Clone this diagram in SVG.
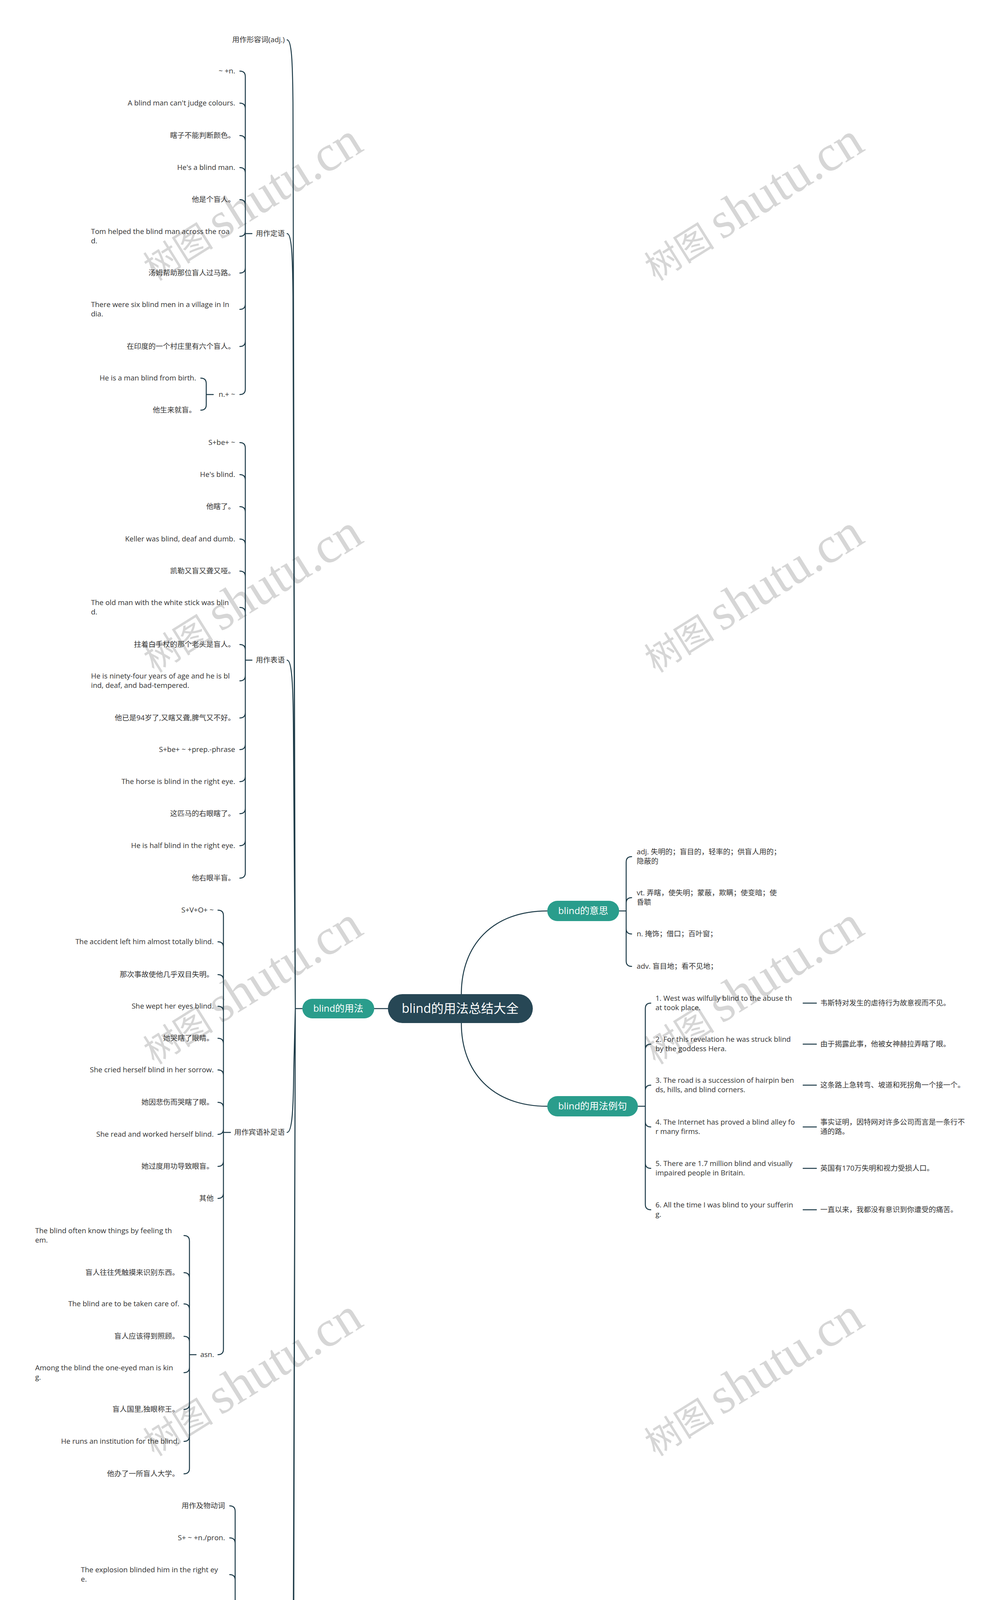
<svg xmlns="http://www.w3.org/2000/svg" width="2560" height="5459" viewBox="0 0 2560 5459">
<style>
.t{font-family:"Open Sans","Noto Sans CJK SC",sans-serif;font-size:18.5px;fill:#333}
.e{text-anchor:end}
.ln{fill:none;stroke:#1d3b48;stroke-width:2.5;stroke-linecap:round}
.wm{font-family:"Liberation Serif","Noto Sans CJK SC",serif;font-size:130px;fill:#d6d6d6;text-anchor:middle}
.wm .c{font-family:"Noto Sans CJK SC",sans-serif;font-size:90px}
.pt{font-family:"Open Sans","Noto Sans CJK SC",sans-serif;fill:#fff;text-anchor:middle}
</style>
<rect width="2560" height="5459" fill="#fff"/>
<g id="watermarks">
<text class="wm" x="644" y="558" transform="rotate(-32 644 518)"><tspan class="c">树图 </tspan>shutu.cn</text>
<text class="wm" x="1927" y="558" transform="rotate(-32 1927 518)"><tspan class="c">树图 </tspan>shutu.cn</text>
<text class="wm" x="644" y="1561" transform="rotate(-32 644 1521)"><tspan class="c">树图 </tspan>shutu.cn</text>
<text class="wm" x="1927" y="1561" transform="rotate(-32 1927 1521)"><tspan class="c">树图 </tspan>shutu.cn</text>
<text class="wm" x="644" y="2564" transform="rotate(-32 644 2524)"><tspan class="c">树图 </tspan>shutu.cn</text>
<text class="wm" x="1927" y="2564" transform="rotate(-32 1927 2524)"><tspan class="c">树图 </tspan>shutu.cn</text>
<text class="wm" x="644" y="3567" transform="rotate(-32 644 3527)"><tspan class="c">树图 </tspan>shutu.cn</text>
<text class="wm" x="1927" y="3567" transform="rotate(-32 1927 3527)"><tspan class="c">树图 </tspan>shutu.cn</text>
<text class="wm" x="644" y="4570" transform="rotate(-32 644 4530)"><tspan class="c">树图 </tspan>shutu.cn</text>
<text class="wm" x="1927" y="4570" transform="rotate(-32 1927 4530)"><tspan class="c">树图 </tspan>shutu.cn</text>
<text class="wm" x="644" y="5562" transform="rotate(-32 644 5522)"><tspan class="c">树图 </tspan>shutu.cn</text>
<text class="wm" x="1927" y="5562" transform="rotate(-32 1927 5522)"><tspan class="c">树图 </tspan>shutu.cn</text>
</g>
<g id="connectors">
<path class="ln" d="M1181,2545 C1181,2420 1260,2332 1401,2332 M1181,2619 C1181,2744 1260,2832 1401,2832 M958,2582 H993"/>
<path class="ln" d="M774,2582 H756 L750,262 C749,162 747,102 735,102 M756,2582 L750,758 C749,658 747,598 735,598 M756,2582 L751,1850 C750,1750 747,1690 735,1690 M756,2582 L752,2739 C751,2839 748,2899 735,2899 M756,2582 L751,4111 C750,4211 747,4271 735,4271 M756,2582 L750,4905 C749,5005 747,5065 735,5065"/>
<path class="ln" d="M645,598 H628 M628,196 V996 M628,196 Q628,182 614,182 M628,278 Q628,264 614,264 M628,361 Q628,347 614,347 M628,443 Q628,429 614,429 M628,525 Q628,511 614,511 M628,591 Q628,605 614,605 M628,685 Q628,699 614,699 M628,778 Q628,792 614,792 M628,873 Q628,887 614,887 M628,996 Q628,1010 614,1010"/>
<path class="ln" d="M546,1010 H528 M528,982 V1036 M528,982 Q528,968 514,968 M528,1036 Q528,1050 514,1050"/>
<path class="ln" d="M645,1690 H628 M628,1147 V2234 M628,1147 Q628,1133 614,1133 M628,1229 Q628,1215 614,1215 M628,1311 Q628,1297 614,1297 M628,1394 Q628,1380 614,1380 M628,1476 Q628,1462 614,1462 M628,1569 Q628,1555 614,1555 M628,1664 Q628,1650 614,1650 M628,1729 Q628,1743 614,1743 M628,1824 Q628,1838 614,1838 M628,1905 Q628,1919 614,1919 M628,1987 Q628,2001 614,2001 M628,2069 Q628,2083 614,2083 M628,2151 Q628,2165 614,2165 M628,2234 Q628,2248 614,2248"/>
<path class="ln" d="M590,2899 H572 M572,2344 V3454 M572,2344 Q572,2330 558,2330 M572,2425 Q572,2411 558,2411 M572,2509 Q572,2495 558,2495 M572,2590 Q572,2576 558,2576 M572,2672 Q572,2658 558,2658 M572,2753 Q572,2739 558,2739 M572,2836 Q572,2822 558,2822 M572,2890 Q572,2904 558,2904 M572,2972 Q572,2986 558,2986 M572,3054 Q572,3068 558,3068 M572,3454 Q572,3468 558,3468"/>
<path class="ln" d="M502,3468 H485 M485,3177 V3759 M485,3177 Q485,3163 471,3163 M485,3272 Q485,3258 471,3258 M485,3352 Q485,3338 471,3338 M485,3435 Q485,3421 471,3421 M485,3500 Q485,3514 471,3514 M485,3594 Q485,3608 471,3608 M485,3676 Q485,3690 471,3690 M485,3759 Q485,3773 471,3773"/>
<path class="ln" d="M619,4271 H602 M602,3869 V4675 M602,3869 Q602,3855 588,3855 M602,3951 Q602,3937 588,3937 M602,4045 Q602,4031 588,4031 M602,4139 Q602,4125 588,4125 M602,4233 Q602,4219 588,4219 M602,4298 Q602,4312 588,4312 M602,4392 Q602,4406 588,4406 M602,4486 Q602,4500 588,4500 M602,4580 Q602,4594 588,4594 M602,4675 Q602,4689 588,4689"/>
<path class="ln" d="M617,5065 H601 M601,4796 V5332 M601,4796 Q601,4782 587,4782 M601,4892 Q601,4878 587,4878 M601,4972 Q601,4958 587,4958 M601,5055 Q601,5041 587,5041 M601,5121 Q601,5135 587,5135 M601,5226 Q601,5240 587,5240 M601,5332 Q601,5346 587,5346"/>
<path class="ln" d="M1585,2332 H1603 M1603,2207 V2460 M1603,2207 Q1603,2193 1617,2193 M1603,2312 Q1603,2298 1617,2298 M1603,2377 Q1603,2391 1617,2391 M1603,2460 Q1603,2474 1617,2474"/>
<path class="ln" d="M1633,2832 H1652 M1652,2582 V3083 M1652,2582 Q1652,2568 1666,2568 M1652,2687 Q1652,2673 1666,2673 M1652,2792 Q1652,2778 1666,2778 M1652,2871 Q1652,2885 1666,2885 M1652,2977 Q1652,2991 1666,2991 M1652,3083 Q1652,3097 1666,3097"/>
<path class="ln" d="M2056,2568 H2090 M2056,2673 H2090 M2056,2778 H2090 M2056,2885 H2090 M2056,2991 H2090 M2056,3097 H2090"/>
</g>
<g id="root"><rect x="993" y="2545" width="371" height="74" rx="37" fill="#274755"/><text class="pt" x="1178" y="2593" font-size="32">blind的用法总结大全</text></g>
<g id="n-usage"><rect x="774" y="2557" width="184" height="50" rx="25" fill="#2a9d8c"/><text class="pt" x="866" y="2590" font-size="24">blind的用法</text></g>
<g id="n-meaning"><rect x="1401" y="2306" width="184" height="52" rx="26" fill="#2a9d8c"/><text class="pt" x="1493" y="2340" font-size="24">blind的意思</text></g>
<g id="n-examples"><rect x="1401" y="2806" width="232" height="52" rx="26" fill="#2a9d8c"/><text class="pt" x="1517" y="2840" font-size="24">blind的用法例句</text></g>
<g id="l1-adj"><text class="t e" x="729" y="108">用作形容词(adj.)</text></g>
<g id="l1-attr"><text class="t e" x="729" y="604">用作定语</text></g>
<g id="l1-pred"><text class="t e" x="729" y="1696">用作表语</text></g>
<g id="l1-comp"><text class="t e" x="729" y="2905">用作宾语补足语</text></g>
<g id="l1-verb"><text class="t e" x="729" y="4277">用作动词(v.)</text></g>
<g id="l1-noun"><text class="t e" x="729" y="5071">用作名词(n.)</text></g>
<g id="attr-items">
<text class="t e" x="602" y="188">~ +n.</text>
<text class="t e" x="602" y="270">A blind man can't judge colours.</text>
<text class="t e" x="602" y="353">瞎子不能判断颜色。</text>
<text class="t e" x="602" y="435">He's a blind man.</text>
<text class="t e" x="602" y="517">他是个盲人。</text>
<text class="t" x="233" y="599"><tspan x="233">Tom helped the blind man across the roa</tspan><tspan x="233" dy="24">d.</tspan></text>
<text class="t e" x="602" y="705">汤姆帮助那位盲人过马路。</text>
<text class="t" x="233" y="786"><tspan x="233">There were six blind men in a village in In</tspan><tspan x="233" dy="24">dia.</tspan></text>
<text class="t e" x="602" y="893">在印度的一个村庄里有六个盲人。</text>
<text class="t e" x="602" y="1016">n.+ ~</text>
<text class="t e" x="502" y="974">He is a man blind from birth.</text>
<text class="t e" x="502" y="1056">他生来就盲。</text>
</g>
<g id="pred-items">
<text class="t e" x="602" y="1139">S+be+ ~</text>
<text class="t e" x="602" y="1221">He's blind.</text>
<text class="t e" x="602" y="1303">他瞎了。</text>
<text class="t e" x="602" y="1386">Keller was blind, deaf and dumb.</text>
<text class="t e" x="602" y="1468">凯勒又盲又聋又哑。</text>
<text class="t" x="233" y="1549"><tspan x="233">The old man with the white stick was blin</tspan><tspan x="233" dy="24">d.</tspan></text>
<text class="t e" x="602" y="1656">拄着白手杖的那个老头是盲人。</text>
<text class="t" x="233" y="1737"><tspan x="233">He is ninety-four years of age and he is bl</tspan><tspan x="233" dy="24">ind, deaf, and bad-tempered.</tspan></text>
<text class="t e" x="602" y="1844">他已是94岁了,又瞎又聋,脾气又不好。</text>
<text class="t e" x="602" y="1925">S+be+ ~ +prep.-phrase</text>
<text class="t e" x="602" y="2007">The horse is blind in the right eye.</text>
<text class="t e" x="602" y="2089">这匹马的右眼瞎了。</text>
<text class="t e" x="602" y="2171">He is half blind in the right eye.</text>
<text class="t e" x="602" y="2254">他右眼半盲。</text>
</g>
<g id="comp-items">
<text class="t e" x="547" y="2336">S+V+O+ ~</text>
<text class="t e" x="547" y="2417">The accident left him almost totally blind.</text>
<text class="t e" x="547" y="2501">那次事故使他几乎双目失明。</text>
<text class="t e" x="547" y="2582">She wept her eyes blind.</text>
<text class="t e" x="547" y="2664">她哭瞎了眼睛。</text>
<text class="t e" x="547" y="2745">She cried herself blind in her sorrow.</text>
<text class="t e" x="547" y="2828">她因悲伤而哭瞎了眼。</text>
<text class="t e" x="547" y="2910">She read and worked herself blind.</text>
<text class="t e" x="547" y="2992">她过度用功导致眼盲。</text>
<text class="t e" x="547" y="3074">其他</text>
<text class="t e" x="548" y="3474">asn.</text>
</g>
<g id="asn-items">
<text class="t" x="90" y="3157"><tspan x="90">The blind often know things by feeling th</tspan><tspan x="90" dy="24">em.</tspan></text>
<text class="t e" x="459" y="3264">盲人往往凭触摸来识别东西。</text>
<text class="t e" x="459" y="3344">The blind are to be taken care of.</text>
<text class="t e" x="459" y="3427">盲人应该得到照顾。</text>
<text class="t" x="90" y="3508"><tspan x="90">Among the blind the one-eyed man is kin</tspan><tspan x="90" dy="24">g.</tspan></text>
<text class="t e" x="459" y="3614">盲人国里,独眼称王。</text>
<text class="t e" x="459" y="3696">He runs an institution for the blind.</text>
<text class="t e" x="459" y="3779">他办了一所盲人大学。</text>
</g>
<g id="verb-items">
<text class="t e" x="576" y="3861">用作及物动词</text>
<text class="t e" x="576" y="3943">S+ ~ +n./pron.</text>
<text class="t" x="207" y="4025"><tspan x="207">The explosion blinded him in the right ey</tspan><tspan x="207" dy="24">e.</tspan></text>
<text class="t e" x="576" y="4131">那次爆炸事故使他右眼失明。</text>
<text class="t" x="207" y="4213"><tspan x="207">The sulphuric acid went on her face and</tspan><tspan x="207" dy="24">blinded her.</tspan></text>
<text class="t e" x="576" y="4318">硫酸流到她的脸上,把眼弄瞎了。</text>
<text class="t" x="207" y="4400" xml:space="preserve"><tspan x="207">The glare from the sun and snow blinded</tspan><tspan x="207" dy="24"> him.</tspan></text>
<text class="t e" x="576" y="4506">炫目的阳光和白雪刺得他睁不开眼睛。</text>
<text class="t" x="207" y="4587"><tspan x="207">The glare of the sun almost blinded them</tspan><tspan x="207" dy="24">.</tspan></text>
<text class="t e" x="576" y="4695">太阳的强光使他们眼花。</text>
</g>
<g id="noun-items">
<text class="t" x="204" y="4776"><tspan x="204">We have rolling blinds,Venetian blinds an</tspan><tspan x="204" dy="24">d window-blinds in our house.</tspan></text>
<text class="t e" x="575" y="4884">我们屋内有卷帘、威尼斯帘、窗帘。</text>
<text class="t e" x="575" y="4964">He pulled down the blinds.</text>
<text class="t e" x="575" y="5047">他放下百叶窗。</text>
<text class="t" x="204" y="5129"><tspan x="204">Would you object to my drawing up the</tspan><tspan x="204" dy="24">blinds?你不反对我卷起窗帘吧?</tspan></text>
<text class="t" x="204" y="5234"><tspan x="204">The store was just a blind for their gambli</tspan><tspan x="204" dy="24">ng operation.</tspan></text>
<text class="t" x="204" y="5339"><tspan x="204">那家商店不过是他们进行赌博活动的掩饰而已</tspan><tspan x="204" dy="24">。</tspan></text>
</g>
<g id="meaning-items">
<text class="t" x="1630" y="2187"><tspan x="1630">adj. 失明的；盲目的，轻率的；供盲人用的；</tspan><tspan x="1630" dy="24">隐蔽的</tspan></text>
<text class="t" x="1630" y="2292"><tspan x="1630">vt. 弄瞎，使失明；蒙蔽，欺瞒；使变暗；使</tspan><tspan x="1630" dy="24">昏聩</tspan></text>
<text class="t" x="1630" y="2397">n. 掩饰；借口；百叶窗；</text>
<text class="t" x="1630" y="2480">adv. 盲目地；看不见地；</text>
</g>
<g id="example-items">
<text class="t" x="1678" y="2562"><tspan x="1678">1. West was wilfully blind to the abuse th</tspan><tspan x="1678" dy="24">at took place.</tspan></text>
<text class="t" x="1678" y="2667"><tspan x="1678">2. For this revelation he was struck blind</tspan><tspan x="1678" dy="24">by the goddess Hera.</tspan></text>
<text class="t" x="1678" y="2772"><tspan x="1678">3. The road is a succession of hairpin ben</tspan><tspan x="1678" dy="24">ds, hills, and blind corners.</tspan></text>
<text class="t" x="1678" y="2879"><tspan x="1678">4. The Internet has proved a blind alley fo</tspan><tspan x="1678" dy="24">r many firms.</tspan></text>
<text class="t" x="1678" y="2985"><tspan x="1678">5. There are 1.7 million blind and visually</tspan><tspan x="1678" dy="24">impaired people in Britain.</tspan></text>
<text class="t" x="1678" y="3091"><tspan x="1678">6. All the time I was blind to your sufferin</tspan><tspan x="1678" dy="24">g.</tspan></text>
</g>
<g id="translation-items">
<text class="t" x="2100" y="2574">韦斯特对发生的虐待行为故意视而不见。</text>
<text class="t" x="2100" y="2679">由于揭露此事，他被女神赫拉弄瞎了眼。</text>
<text class="t" x="2100" y="2784">这条路上急转弯、坡道和死拐角一个接一个。</text>
<text class="t" x="2100" y="2879"><tspan x="2100">事实证明，因特网对许多公司而言是一条行不</tspan><tspan x="2100" dy="24">通的路。</tspan></text>
<text class="t" x="2100" y="2997">英国有170万失明和视力受损人口。</text>
<text class="t" x="2100" y="3103">一直以来，我都没有意识到你遭受的痛苦。</text>
</g>
</svg>
